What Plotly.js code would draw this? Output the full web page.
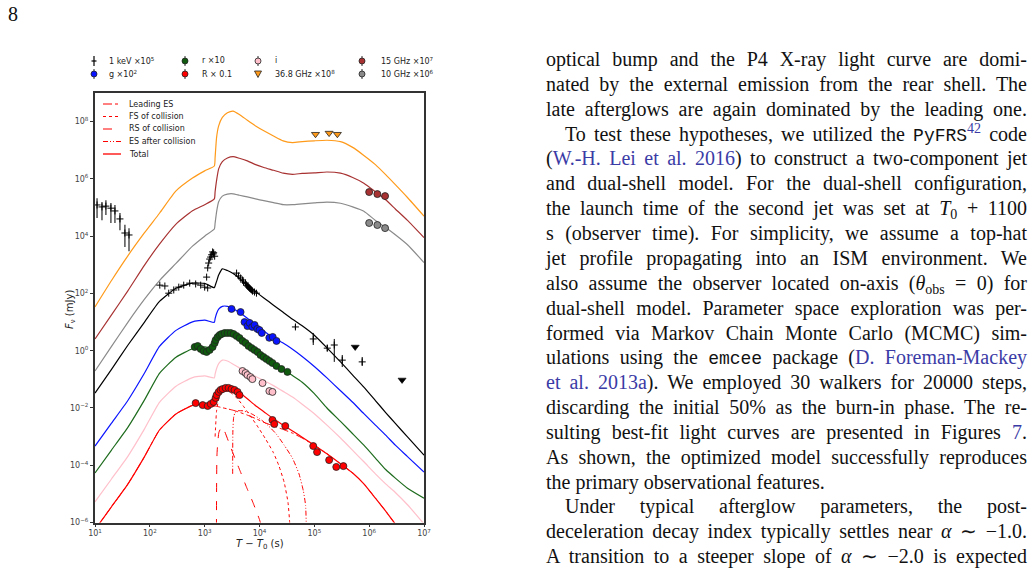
<!DOCTYPE html>
<html>
<head>
<meta charset="utf-8">
<script src="https://cdn.plot.ly/plotly-3.0.1.min.js"></script>
<style>
  html, body { margin: 0; padding: 0; background: #fff; }
  #page { position: relative; width: 1035px; height: 573px; overflow: hidden; background: #fff; }
  #chart { position: absolute; left: 0; top: 0; width: 1035px; height: 573px; }
  .pgnum { position: absolute; left: 8px; top: 3px; font-family: "Liberation Serif", serif; font-size: 20px; color: #111; }
  .col { position: absolute; left: 546px; top: 0; width: 481px; font-family: "Liberation Serif", serif; font-size: 20px; color: #111; }
  .ln { position: absolute; left: 0; width: 481px; height: 24px; line-height: 24px; white-space: normal;
        text-align: justify; text-align-last: justify; }
  .ln.ind { left: 19px; width: 462px; }
  .ln.last { text-align: left; text-align-last: left; }
  .tt { font-family: "Liberation Mono", monospace; font-size: 18px; }
  .ref { color: #3b3ba6; }
  sup, sub { font-size: 70%; line-height: 0; }
  sup { vertical-align: 0.55em; }
  sub { vertical-align: -0.25em; }
</style>
</head>
<body>
<div id="page">
  <div id="chart"></div>
  <div class="pgnum">8</div>
  <div class="col" id="col">
    <div class="ln" style="top:47px">optical bump and the P4 X-ray light curve are domi-</div>
    <div class="ln" style="top:72px">nated by the external emission from the rear shell. The</div>
    <div class="ln" style="top:97px">late afterglows are again dominated by the leading one.</div>
    <div class="ln ind" style="top:122px">To test these hypotheses, we utilized the <span class="tt">PyFRS</span><sup class="ref">42</sup> code</div>
    <div class="ln" style="top:146px">(<span class="ref">W.-H. Lei et al. 2016</span>) to construct a two-component jet</div>
    <div class="ln" style="top:171px">and dual-shell model. For the dual-shell configuration,</div>
    <div class="ln" style="top:196px">the launch time of the second jet was set at <i>T</i><sub>0</sub> + 1100</div>
    <div class="ln" style="top:221px">s (observer time). For simplicity, we assume a top-hat</div>
    <div class="ln" style="top:246px">jet profile propagating into an ISM environment. We</div>
    <div class="ln" style="top:271px">also assume the observer located on-axis (<i>θ</i><sub>obs</sub> = 0) for</div>
    <div class="ln" style="top:296px">dual-shell model. Parameter space exploration was per-</div>
    <div class="ln" style="top:321px">formed via Markov Chain Monte Carlo (MCMC) sim-</div>
    <div class="ln" style="top:345px">ulations using the <span class="tt">emcee</span> package (<span class="ref">D. Foreman-Mackey</span></div>
    <div class="ln" style="top:370px"><span class="ref">et al. 2013a</span>). We employed 30 walkers for 20000 steps,</div>
    <div class="ln" style="top:395px">discarding the initial 50% as the burn-in phase. The re-</div>
    <div class="ln" style="top:420px">sulting best-fit light curves are presented in Figures <span class="ref">7</span>.</div>
    <div class="ln" style="top:445px">As shown, the optimized model successfully reproduces</div>
    <div class="ln last" style="top:470px">the primary observational features.</div>
    <div class="ln ind" style="top:494px">Under typical afterglow parameters, the post-</div>
    <div class="ln" style="top:519px">deceleration decay index typically settles near <i>α</i> ∼ −1.0.</div>
    <div class="ln" style="top:544px">A transition to a steeper slope of <i>α</i> ∼ −2.0 is expected</div>
  </div>
</div>
<script>
// ---------- model light curves (flux in mJy, already scaled per band) ----------
const modelT = [10, 20, 40, 80, 150, 300, 600, 1000, 1500, 1550, 1650, 1800, 2100, 2600, 3300, 4300,
  6000, 8500, 12000, 18000, 27000, 40000, 60000, 1e5, 1.7e5, 3e5, 5e5, 8e5, 1.3e6, 2e6, 3e6, 5e6, 1e7];

const model368GHz = [33.9, 282, 2090, 1.32e4, 6.31e4, 3.80e5, 1.07e6, 1.91e6, 2.82e6, 5.62e6, 2.82e7, 7.08e7,
  1.41e8, 2.04e8, 2.34e8, 1.78e8, 1.12e8, 7.08e7, 4.79e7, 3.16e7, 2.14e7, 1.86e7, 2.00e7, 2.14e7, 2.24e7,
  2.00e7, 1.26e7, 6.61e6, 3.16e6, 1.41e6, 6.31e5, 2.24e5, 5.01e4];
const model15GHz = [2.57, 17.8, 126, 977, 5250, 2.63e4, 7.76e4, 1.26e5, 2.0e5, 3.55e5, 8.91e5, 2.24e6, 3.98e6,
  5.37e6, 6.03e6, 5.25e6, 4.27e6, 3.16e6, 2.51e6, 2.0e6, 1.58e6, 1.45e6, 1.55e6, 1.62e6, 1.74e6, 1.58e6,
  1.12e6, 7.08e5, 3.55e5, 1.86e5, 8.91e4, 3.55e4, 8910];
const model10GHz = [0.195, 1.41, 10, 63.1, 282, 1120, 4470, 1.0e4, 1.78e4, 2.82e4, 7.08e4, 1.58e5, 2.51e5,
  2.95e5, 3.02e5, 2.69e5, 2.34e5, 2.0e5, 1.74e5, 1.48e5, 1.26e5, 1.26e5, 1.35e5, 1.45e5, 1.55e5, 1.41e5,
  1.05e5, 7.41e4, 3.55e4, 2.0e4, 1.12e4, 5010, 1200];
const modelXray = [0.0331, 0.224, 1.58, 10, 52.5, 151, 229, 224, 158, 186, 263, 437, 724, 631, 501, 339, 191,
  115, 69.2, 38.9, 21.9, 12.6, 7.41, 3.47, 1.26, 0.407, 0.141, 0.0537, 0.0182, 0.00692, 0.00288, 0.000977, 0.000224];
const modelG = [4.68e-4, 2.95e-3, 0.0186, 0.166, 1.41, 5.13, 10.2, 11.7, 9.77, 13.2, 20.0, 28.2, 35.5, 35.5,
  29.5, 21.4, 13.5, 7.94, 4.90, 2.75, 1.86, 1.12, 0.631, 0.282, 0.112, 0.0398, 0.0158, 0.00631, 0.00251,
  0.00112, 5.01e-4, 2.0e-4, 5.75e-5];
const modelR = [5.37e-5, 3.39e-4, 2.14e-3, 0.0191, 0.162, 0.589, 1.17, 1.35, 1.12, 1.41, 2.14, 2.95, 3.80,
  4.17, 3.72, 2.75, 1.66, 1.0, 0.631, 0.355, 0.219, 0.135, 0.0794, 0.0316, 0.01, 0.00339, 0.00126, 5.01e-4,
  1.78e-4, 7.08e-5, 3.55e-5, 1.58e-5, 7.08e-6];
const modelI = [5.25e-6, 3.31e-5, 2.09e-4, 1.86e-3, 0.0158, 0.0575, 0.115, 0.132, 0.112, 0.151, 0.240, 0.355,
  0.468, 0.437, 0.339, 0.251, 0.174, 0.126, 0.0912, 0.0603, 0.0380, 0.0240, 0.0135, 0.00631, 0.00251, 8.91e-4,
  3.31e-4, 1.32e-4, 5.01e-5, 2.24e-5, 1.12e-5, 4.17e-6, 8.91e-7];
const modelRcTotal = [5.62e-7, 3.55e-6, 2.24e-5, 2.0e-4, 1.70e-3, 6.17e-3, 0.0123, 0.0141, 0.0117, 0.0151,
  0.0224, 0.0316, 0.0417, 0.0468, 0.0447, 0.0339, 0.0209, 0.0120, 7.41e-3, 4.17e-3, 2.51e-3, 1.58e-3, 9.55e-4,
  5.01e-4, 2.51e-4, 1.12e-4, 5.37e-5, 2.24e-5, 7.08e-6, 2.51e-6, 8.91e-7, 3.16e-7, 7.94e-8];
const modelRcLeadingES = [5.62e-7, 3.55e-6, 2.24e-5, 2.0e-4, 1.70e-3, 6.17e-3, 0.0123, 0.0141, 0.0117, 0.0117,
  0.0115, 0.0110, 0.0102, 9.33e-3, 8.32e-3, 7.08e-3, 5.62e-3, 4.27e-3, 3.16e-3, 2.34e-3, 1.78e-3, 1.32e-3,
  8.91e-4, 5.01e-4, 2.51e-4, 1.12e-4, 5.37e-5, 2.24e-5, 7.08e-6, 2.51e-6, 8.91e-7, 3.16e-7, 7.94e-8];

// R-band components of the collision
const fsT = [1550, 1650, 1800, 2000, 2240, 2630, 3160, 3980, 5010, 6610, 8910, 12600, 17800, 22400, 28200, 33100, 35500, 36300];
const fsF = [1.0e-3, 7.94e-3, 0.020, 0.0316, 0.0372, 0.038, 0.0316, 0.0209, 0.012, 5.62e-3, 2.51e-3, 8.91e-4,
  2.82e-4, 1.0e-4, 2.51e-5, 5.01e-6, 1.0e-6, 3.16e-7];
const rsT = [1640, 1680, 1820, 2040, 2290, 2820, 3550, 4470, 5750, 7590, 10000, 10700];
const rsF = [6.31e-7, 2.51e-4, 1.41e-3, 2.14e-3, 1.58e-3, 5.62e-4, 1.78e-4, 6.03e-5, 1.78e-5, 5.01e-6, 1.26e-6, 7.94e-7];
const esAfterT = [3240, 3270, 3390, 3630, 3980, 5010, 7080, 10000, 14100, 20000, 28200, 39800, 52500, 63100, 69200, 71600];
const esAfterF = [5.01e-5, 1.58e-3, 5.01e-3, 7.08e-3, 7.94e-3, 7.94e-3, 6.31e-3, 4.27e-3, 2.51e-3, 1.26e-3,
  5.01e-4, 1.78e-4, 5.01e-5, 1.26e-5, 3.98e-6, 6.31e-7];

// ---------- observations ----------
// X-ray, 1 keV x1e5
const xrayEarlyT = [10.9, 13.4, 15.8, 19.5, 23.1, 28.5, 35.1, 41.7];
const xrayEarlyF = [1.23e5, 1.05e5, 1.12e5, 9.5e4, 7.6e4, 4.0e4, 1.29e4, 1.1e4];
const xrayEarlyHi = [2.1e5, 1.55e5, 1.8e5, 1.45e5, 1.23e5, 6.5e4, 2.5e4, 1.9e4];
const xrayEarlyLo = [4.3e4, 3.6e4, 5.5e4, 2.9e4, 2.9e4, 1.6e4, 4.2e3, 3.0e3];
const xrayMidT = [152, 188, 221, 273, 337, 415, 533, 685, 845, 1000, 1135,
  1086, 1135, 1183, 1233, 1285, 1340, 1396, 1459, 1521, 1429];
const xrayMidF = [195, 182, 102, 132, 166, 195, 229, 214, 195, 166, 155,
  372, 776, 1150, 1585, 1862, 2239, 2818, 2630, 1995, 2399];
const xrayDecayT = [3819, 4150, 4519, 4909, 5117, 5559, 5807, 6053, 6310, 6577, 6855, 7161, 7464, 8110, 8810];
const xrayDecayF = [513, 407, 347, 295, 251, 229, 195, 182, 166, 155, 141, 132, 120, 112, 102];
const xrayLateT = [45200, 95500, 172000, 231000, 323000, 746000];
const xrayLateF = [6.76, 2.57, 1.23, 1.58, 0.468, 0.407];
const xrayLateHi = [8.1, 4.17, 1.6, 2.57, 0.708, 0.603];
const xrayLateLo = [5.6, 1.58, 0.95, 0.407, 0.269, 0.295];
const xrayLimitT = [556000, 3.98e6];
const xrayLimitF = [1.35, 0.0955];

// optical bands
const gT = [3090, 4520, 5330, 6030, 6610, 7410, 8130, 9120, 10000, 11000, 15100, 17400, 20400];
const gF = [28.8, 22.4, 10.0, 7.24, 9.33, 6.76, 7.94, 5.75, 5.25, 4.17, 2.82, 3.02, 2.19];
const rT = [658, 746, 845, 959, 1086, 1233, 1396, 1521, 1585, 1722, 1875, 2037, 2312, 2618, 2972, 3365,
  3819, 4325, 4909, 5559, 6310, 7161, 8110, 9204, 10420, 11830, 13400, 15210, 17220, 20370, 25120, 32280];
const rF = [1.35, 1.46, 1.15, 0.977, 0.902, 1.06, 1.35, 1.86, 2.36, 3.01, 3.53, 3.83, 4.15, 4.15, 4.15, 3.83,
  3.26, 2.77, 2.18, 1.86, 1.46, 1.24, 1.06, 0.902, 0.708, 0.603, 0.513, 0.437, 0.372, 0.295, 0.229, 0.182];
const iT = [4900, 5560, 6030, 6850, 7410, 11350, 15140, 17220];
const iF = [0.195, 0.166, 0.141, 0.120, 0.102, 0.0741, 0.0389, 0.0363];
const RcT = [685, 920, 1135, 1288, 1459, 1585, 1652, 1799, 1950, 2123, 2410, 2729, 3090, 3508, 3981, 4325,
  17220, 18620, 29510, 95500, 112200, 186200, 251200, 338800];
const RcF = [0.0148, 0.0126, 0.0117, 0.0138, 0.0162, 0.0224, 0.0282, 0.0363, 0.0427, 0.0457, 0.0501, 0.0501,
  0.0457, 0.0427, 0.0363, 0.0282, 3.80e-3, 2.75e-3, 2.34e-3, 4.68e-4, 2.88e-4, 1.51e-4, 8.71e-5, 9.33e-5];

// radio
const radio15T = [1.0e6, 1.41e6, 1.95e6];
const radio15F = [3.47e5, 2.95e5, 2.51e5];
const radio10T = [1.0e6, 1.41e6, 1.95e6];
const radio10F = [2.88e4, 2.45e4, 1.91e4];
const radio368LimT = [1.05e5, 1.86e5, 2.63e5];
const radio368LimF = [3.63e7, 3.98e7, 3.63e7];

// axis ticks
const xTickVals = [1e1, 1e2, 1e3, 1e4, 1e5, 1e6, 1e7];
const xTickText = ['10<sup>1</sup>', '10<sup>2</sup>', '10<sup>3</sup>', '10<sup>4</sup>', '10<sup>5</sup>', '10<sup>6</sup>', '10<sup>7</sup>'];
const yTickVals = [1e-6, 1e-4, 1e-2, 1e0, 1e2, 1e4, 1e6, 1e8];
const yTickText = ['10<sup>−6</sup>', '10<sup>−4</sup>', '10<sup>−2</sup>', '10<sup>0</sup>', '10<sup>2</sup>', '10<sup>4</sup>', '10<sup>6</sup>', '10<sup>8</sup>'];

// legend entries
const bandLabels = ['1 keV ×10<sup>5</sup>', 'g ×10<sup>2</sup>', 'r ×10', 'R × 0.1', 'i',
  '36.8 GHz ×10<sup>8</sup>', '15 GHz ×10<sup>7</sup>', '10 GHz ×10<sup>6</sup>'];
const componentLabels = ['Leading ES', 'FS of collision', 'RS of collision', 'ES after collision', 'Total'];

// ---------- colours ----------
const C = {
  orange: '#ff9a1a', brown: '#a83232', gray: '#8a8a8a', black: '#000000',
  blue: '#0a14ff', green: '#1d6b1d', pink: '#ffc0cb', red: '#ff0000'
};
const DASH_DOTDOT = '5px,2px,1px,2px,1px,2px';

// ---------- traces ----------
const traces = [];
function modelLine(x, y, color, width, dash) {
  traces.push({ x, y, type: 'scatter', mode: 'lines', hoverinfo: 'skip', showlegend: false,
    line: { color, width, dash: dash || 'solid', shape: 'spline', smoothing: 0.5 } });
}
function dataPoints(x, y, marker, errorY) {
  const t = { x, y, type: 'scatter', mode: 'markers', hoverinfo: 'skip', showlegend: false, marker };
  if (errorY) t.error_y = errorY;
  traces.push(t);
}
const circle = fill => ({ symbol: 'circle', size: 7, color: fill, line: { color: '#222', width: 0.8 } });

modelLine(modelT, model368GHz, C.orange, 1.2);
modelLine(modelT, model15GHz, C.brown, 1.2);
modelLine(modelT, model10GHz, C.gray, 1.2);
modelLine(modelT, modelXray, C.black, 1.2);
modelLine(modelT, modelG, C.blue, 1.2);
modelLine(modelT, modelR, C.green, 1.2);
modelLine(modelT, modelI, C.pink, 1.2);
modelLine(modelT, modelRcLeadingES, C.red, 1, 'dashdot');
modelLine(fsT, fsF, C.red, 1, 'dot');
modelLine(rsT, rsF, C.red, 1, 'dash');
modelLine(esAfterT, esAfterF, C.red, 1, DASH_DOTDOT);
modelLine(modelT, modelRcTotal, C.red, 1.2);

const plus = { symbol: 'cross-thin', size: 5, color: '#000', line: { color: '#000', width: 1 } };
dataPoints(xrayEarlyT, xrayEarlyF, plus, {
  type: 'data', symmetric: false,
  array: xrayEarlyHi.map((h, k) => h - xrayEarlyF[k]),
  arrayminus: xrayEarlyLo.map((l, k) => xrayEarlyF[k] - l),
  color: '#444', thickness: 1.4, width: 0 });
dataPoints(xrayMidT, xrayMidF, plus);
dataPoints(xrayDecayT, xrayDecayF, plus);
dataPoints(xrayLateT, xrayLateF, plus, {
  type: 'data', symmetric: false,
  array: xrayLateHi.map((h, k) => h - xrayLateF[k]),
  arrayminus: xrayLateLo.map((l, k) => xrayLateF[k] - l),
  color: '#000', thickness: 1, width: 0 });
dataPoints(xrayLimitT, xrayLimitF, { symbol: 'triangle-down', size: 7, color: '#000', line: { color: '#000', width: 0.6 } });

dataPoints(gT, gF, circle(C.blue));
dataPoints(rT, rF, circle('#0f5a0f'));
dataPoints(iT, iF, circle(C.pink));
dataPoints(RcT, RcF, circle(C.red));
dataPoints(radio15T, radio15F, circle(C.brown));
dataPoints(radio10T, radio10F, circle(C.gray));
dataPoints(radio368LimT, radio368LimF, { symbol: 'triangle-down', size: 7, color: C.orange, line: { color: '#222', width: 0.8 } });

// ---------- page-space helpers for legends and titles ----------
const W = 1035, H = 573;
const fx = v => v / W;
const fy = v => 1 - v / H;
const shapes = [];
const annotations = [];

function seg(x0, y0, x1, y1, color, width, dash) {
  shapes.push({ type: 'line', xref: 'paper', yref: 'paper', x0: fx(x0), y0: fy(y0), x1: fx(x1), y1: fy(y1),
    line: { color, width, dash: dash || 'solid' } });
}
function label(x, y, text, size, extra) {
  annotations.push(Object.assign({ xref: 'paper', yref: 'paper', x: fx(x), y: fy(y), text, showarrow: false,
    xanchor: 'left', yanchor: 'middle', font: { family: 'DejaVu Sans', size: size || 8, color: '#222' } }, extra || {}));
}
function legendDot(cx, cy, fill) {
  seg(cx, cy - 5, cx, cy + 5, '#333', 1);
  shapes.push({ type: 'circle', xref: 'paper', yref: 'paper', xsizemode: 'pixel', ysizemode: 'pixel',
    xanchor: fx(cx), yanchor: fy(cy), x0: -3, x1: 3, y0: -3, y1: 3, fillcolor: fill, line: { color: '#222', width: 0.8 } });
}
function legendTriangle(cx, cy, fill) {
  shapes.push({ type: 'path', xref: 'paper', yref: 'paper', xsizemode: 'pixel', ysizemode: 'pixel',
    xanchor: fx(cx), yanchor: fy(cy), path: 'M-3.5,3 L3.5,3 L0,-3.5 Z', fillcolor: fill, line: { color: '#222', width: 0.8 } });
}
function legendPlus(cx, cy) {
  seg(cx, cy - 5, cx, cy + 5, '#000', 1.2);
  seg(cx - 2.5, cy, cx + 2.5, cy, '#000', 1.2);
}

// band legend above the panel (two rows, four columns)
legendPlus(94, 61);             label(107, 61, bandLabels[0]);
legendDot(94, 74, C.blue);      label(107, 74, bandLabels[1]);
legendDot(185, 61, '#0f5a0f');  label(200, 61, bandLabels[2]);
legendDot(185, 74, C.red);      label(200, 74, bandLabels[3]);
legendDot(258, 61, C.pink);     label(273, 61, bandLabels[4]);
legendTriangle(258, 74, C.orange); label(273, 74, bandLabels[5]);
legendDot(362, 61, C.brown);    label(379, 61, bandLabels[6]);
legendDot(362, 74, C.gray);     label(379, 74, bandLabels[7]);

// component legend inside the panel
const compDash = ['dashdot', 'dot', 'dash', DASH_DOTDOT, 'solid'];
const compRows = [104, 116.5, 129, 141.5, 154];
componentLabels.forEach((txt, k) => {
  seg(103, compRows[k], 121, compRows[k], C.red, k === 4 ? 1.3 : 1, compDash[k]);
  label(127, compRows[k], txt);
});

// axis titles
label(70, 310, '<i>F</i><sub>ν</sub> (mJy)', 10, { xanchor: 'center', textangle: -90, font: { family: 'DejaVu Sans', size: 10, color: '#222' } });
label(260, 544, '<i>T</i> − <i>T</i><sub>0</sub> (s)', 10, { xanchor: 'center', font: { family: 'DejaVu Sans', size: 10, color: '#222' } });

const axisCommon = {
  type: 'log', showgrid: false, zeroline: false, showline: true, mirror: true,
  linecolor: '#333', linewidth: 2, ticks: 'outside', ticklen: 3, tickwidth: 1, tickcolor: '#333',
  tickfont: { family: 'DejaVu Sans', size: 8, color: '#444' }, fixedrange: true
};

const layout = {
  width: W, height: H, margin: { l: 0, r: 0, t: 0, b: 0 },
  paper_bgcolor: 'rgba(0,0,0,0)', plot_bgcolor: '#ffffff', showlegend: false,
  font: { family: 'DejaVu Sans', size: 8, color: '#333' },
  xaxis: Object.assign({}, axisCommon, { range: [1, 7], domain: [fx(95), fx(424)], tickvals: xTickVals, ticktext: xTickText, ticklen: 2 }),
  yaxis: Object.assign({}, axisCommon, { range: [-6, 9], domain: [fy(522.5), fy(93)], tickvals: yTickVals, ticktext: yTickText }),
  shapes, annotations
};

Plotly.newPlot('chart', traces, layout, { staticPlot: true, displayModeBar: false });
</script>
</body>
</html>
